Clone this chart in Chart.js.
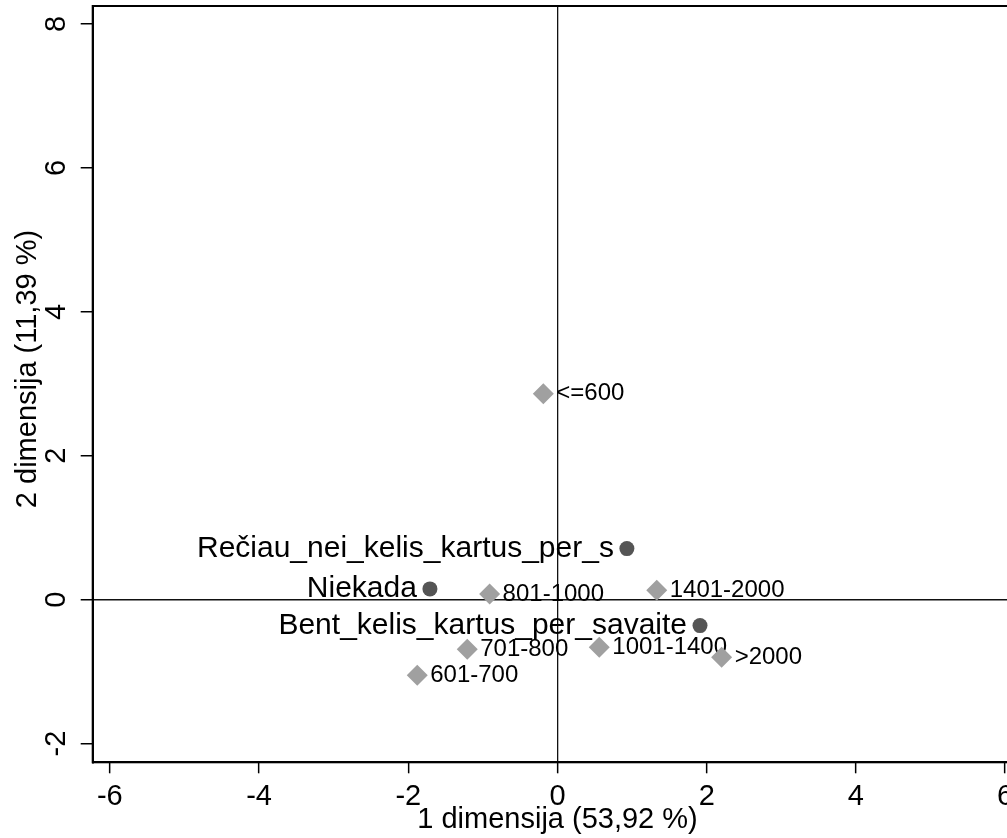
<!DOCTYPE html>
<html>
<head>
<meta charset="utf-8">
<script src="https://cdn.jsdelivr.net/npm/chart.js@4.4.1/dist/chart.umd.min.js"></script>
<style>
  html, body { margin: 0; padding: 0; overflow: hidden; background: #fff; }
  #wrap { width: 1007px; height: 838px; overflow: hidden; }
  canvas { display: block; }
</style>
</head>
<body>
<div id="wrap"><canvas id="c" width="1040" height="838"></canvas></div>
<script>
// Row points (diamonds)
const rowLabels = ['<=600', '601-700', '701-800', '801-1000', '1001-1400', '1401-2000', '>2000'];
const rowX = [-0.19, -1.88, -1.21, -0.91, 0.56, 1.33, 2.20];
const rowY = [2.86, -1.05, -0.69, 0.08, -0.66, 0.13, -0.80];
// Column points (circles)
const colLabels = ['Niekada', 'Rečiau_nei_kelis_kartus_per_s', 'Bent_kelis_kartus_per_savaite'];
const colX = [-1.71, 0.93, 1.91];
const colY = [0.15, 0.71, -0.36];
// Axes
const xTicks = [-6, -4, -2, 0, 2, 4, 6];
const yTicks = [-2, 0, 2, 4, 6, 8];
const xTitle = '1 dimensija (53,92 %)';
const yTitle = '2 dimensija (11,39 %)';

const FONT = "'Liberation Sans', Arial, Helvetica, sans-serif";

const labelPlugin = {
  id: 'pointLabels',
  beforeDatasetsDraw(chart) {
    const ctx = chart.ctx;
    ctx.save();
    ctx.fillStyle = '#000';
    ctx.textBaseline = 'middle';
    chart.data.datasets.forEach((ds, di) => {
      const meta = chart.getDatasetMeta(di);
      meta.data.forEach((el, i) => {
        const txt = ds.labelsText[i];
        if (ds.labelSide === 'right') {
          ctx.font = '24px ' + FONT;
          ctx.textAlign = 'left';
          ctx.fillText(txt, el.x + 13, el.y);
        } else {
          ctx.font = '30px ' + FONT;
          ctx.textAlign = 'right';
          ctx.fillText(txt, el.x - 13, el.y);
        }
      });
    });
    ctx.restore();
  },
  afterDraw(chart) {
    const a = chart.chartArea;
    const ctx = chart.ctx;
    ctx.save();
    ctx.strokeStyle = '#000';
    ctx.lineWidth = 2;
    ctx.strokeRect(a.left, a.top, a.right - a.left, a.bottom - a.top);
    // y-axis title (placed slightly above the plot-region centre, as in the reference)
    ctx.translate(27.5, 369);
    ctx.rotate(-Math.PI / 2);
    ctx.font = '29px ' + FONT;
    ctx.fillStyle = '#000';
    ctx.textAlign = 'center';
    ctx.textBaseline = 'middle';
    ctx.fillText(yTitle, 0, 0);
    ctx.restore();
  }
};

const gridColor = (c) => (c.tick && c.tick.value === 0) ? '#111' : 'rgba(0,0,0,0)';

new Chart(document.getElementById('c'), {
  type: 'scatter',
  data: {
    datasets: [
      {
        label: 'rows',
        data: rowX.map((x, i) => ({ x: x, y: rowY[i] })),
        labelsText: rowLabels,
        labelSide: 'right',
        pointStyle: 'rectRot',
        pointRadius: 10.5,
        pointHoverRadius: 10.5,
        backgroundColor: '#a0a0a0',
        borderWidth: 0
      },
      {
        label: 'cols',
        data: colX.map((x, i) => ({ x: x, y: colY[i] })),
        labelsText: colLabels,
        labelSide: 'left',
        pointStyle: 'circle',
        pointRadius: 7.5,
        pointHoverRadius: 7.5,
        backgroundColor: '#555555',
        borderWidth: 0
      }
    ]
  },
  options: {
    responsive: false,
    devicePixelRatio: 1,
    animation: false,
    layout: { autoPadding: false, padding: { top: 6, right: 17.7, left: 0, bottom: 0 } },
    plugins: { legend: { display: false }, tooltip: { enabled: false } },
    scales: {
      x: {
        type: 'linear',
        min: -6.23,
        max: 6.23,
        afterBuildTicks: (s) => { s.ticks = xTicks.map(v => ({ value: v })); },
        afterFit: (s) => { s.height = 75.7; s.paddingLeft = 0; s.paddingRight = 0; },
        ticks: {
          autoSkip: false,
          maxRotation: 0,
          minRotation: 0,
          padding: 6,
          color: '#000',
          font: { family: FONT, size: 29 }
        },
        grid: {
          color: gridColor,
          lineWidth: 1.3,
          drawTicks: true,
          tickLength: 11,
          tickColor: '#000',
          tickWidth: 1.5
        },
        border: { display: true, color: '#000', width: 2 },
        title: {
          display: true,
          text: xTitle,
          color: '#000',
          font: { family: FONT, size: 29, lineHeight: 1.2 },
          padding: { top: 0, bottom: 1 }
        }
      },
      y: {
        type: 'linear',
        min: -2.26,
        max: 8.25,
        afterBuildTicks: (s) => { s.ticks = yTicks.map(v => ({ value: v })); },
        afterFit: (s) => { s.width = 92.7; s.paddingTop = 0; s.paddingBottom = 0; },
        ticks: {
          autoSkip: false,
          minRotation: 90,
          maxRotation: 90,
          crossAlign: 'center',
          padding: 11,
          color: '#000',
          font: { family: FONT, size: 29 }
        },
        grid: {
          color: gridColor,
          lineWidth: 1.5,
          drawTicks: true,
          tickLength: 12,
          tickColor: '#000',
          tickWidth: 1.5
        },
        border: { display: true, color: '#000', width: 2 },
        title: { display: false }
      }
    }
  },
  plugins: [labelPlugin]
});
</script>
</body>
</html>
